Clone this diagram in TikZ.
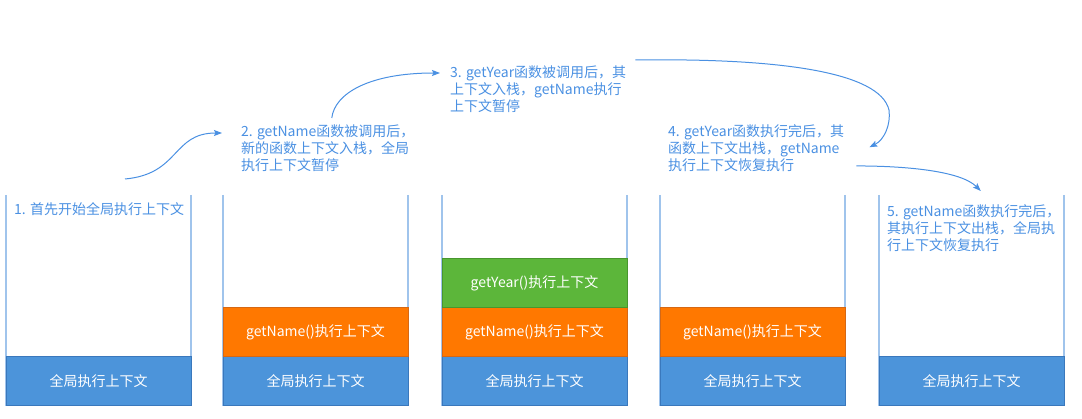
\documentclass[tikz,border=0pt]{standalone}
\usepackage{fontspec}
\newfontfamily\cjk{Noto Sans CJK SC}
\usetikzlibrary{arrows.meta,positioning}

\definecolor{wallblue}{RGB}{160,196,236}
\definecolor{globalblue}{RGB}{76,148,218}
\definecolor{globaledge}{RGB}{58,120,188}
\definecolor{nameorange}{RGB}{255,120,0}
\definecolor{nameedge}{RGB}{214,104,20}
\definecolor{yeargreen}{RGB}{92,182,58}
\definecolor{yearedge}{RGB}{72,150,46}
\definecolor{notetext}{RGB}{74,144,226}

\begin{document}
\begin{tikzpicture}[x=1pt, y=-1pt,
	wall/.style={draw=wallblue, line width=1.5pt},
	ctx/.style={line width=1pt, minimum width=185pt, minimum height=49pt, inner sep=0pt, outer sep=0pt, text=white, font=\cjk\fontsize{14}{17}\selectfont},
	globalctx/.style={ctx, draw=globaledge, fill=globalblue},
	namectx/.style={ctx, draw=nameedge, fill=nameorange},
	yearctx/.style={ctx, draw=yearedge, fill=yeargreen},
	note/.style={anchor=north west, align=left, inner sep=0pt, text=notetext, font=\cjk\fontsize{14}{17}\selectfont},
	flow/.style={draw=notetext, line width=1pt, -{Stealth[length=8pt, width=6pt, inset=1.5pt]}}]
	\useasboundingbox (0,0) rectangle (1082,419);

	\foreach \l in {6,223,442,660,879}
		\draw[wall] (\l,195) -- (\l,406) (\l+185,195) -- (\l+185,406);

	\node[globalctx] (g1) at (98.5,381.5) {全局执行上下文};
	\node[globalctx] (g2) at (315.5,381.5) {全局执行上下文};
	\node[globalctx] (g3) at (534.5,381.5) {全局执行上下文};
	\node[globalctx] (g4) at (752.5,381.5) {全局执行上下文};
	\node[globalctx] (g5) at (971.5,381.5) {全局执行上下文};

	\node[namectx, above=0pt of g2] (n2) {getName()执行上下文};
	\node[namectx, above=0pt of g3] (n3) {getName()执行上下文};
	\node[yearctx, above=0pt of n3] (y3) {getYear()执行上下文};
	\node[namectx, above=0pt of g4] (n4) {getName()执行上下文};

	\node[note] (s1) at (14,202.5) {1. 首先开始全局执行上下文};
	\node[note] (s2) at (241,124.5) {2. getName函数被调用后，\\新的函数上下文入栈，全局\\执行上下文暂停};
	\node[note] (s3) at (450,65.5) {3. getYear函数被调用后，其\\上下文入栈，getName执行\\上下文暂停};
	\node[note] (s4) at (668,124.5) {4. getYear函数执行完后，其\\函数上下文出栈，getName\\执行上下文恢复执行};
	\node[note] (s5) at (887,204.5) {5. getName函数执行完后，\\其执行上下文出栈，全局执\\行上下文恢复执行};

	\coordinate (a1) at (125,179);
	\draw[flow] (a1) .. controls (180,174) and (172,133) .. ([xshift=-19pt, yshift=-8.5pt]s2.north west);
	\draw[flow] ([xshift=4pt, yshift=6.5pt]s2.north) .. controls +(3,-25) and +(-70,0) .. ([xshift=-10pt, yshift=-7.5pt]s3.north west);
	\draw[flow] ([xshift=9pt, yshift=5.5pt]s3.north east) .. controls (780,58) and (880,72) .. (889,110) .. controls (891,125) and (884,140) .. ([xshift=25pt, yshift=1pt]s4.east);
	\draw[flow] ([xshift=12pt, yshift=6pt]s4.south east) .. controls +(50,0) and +(-20,-20) .. ([xshift=7pt, yshift=13.5pt]s5.north);
\end{tikzpicture}
\end{document}
